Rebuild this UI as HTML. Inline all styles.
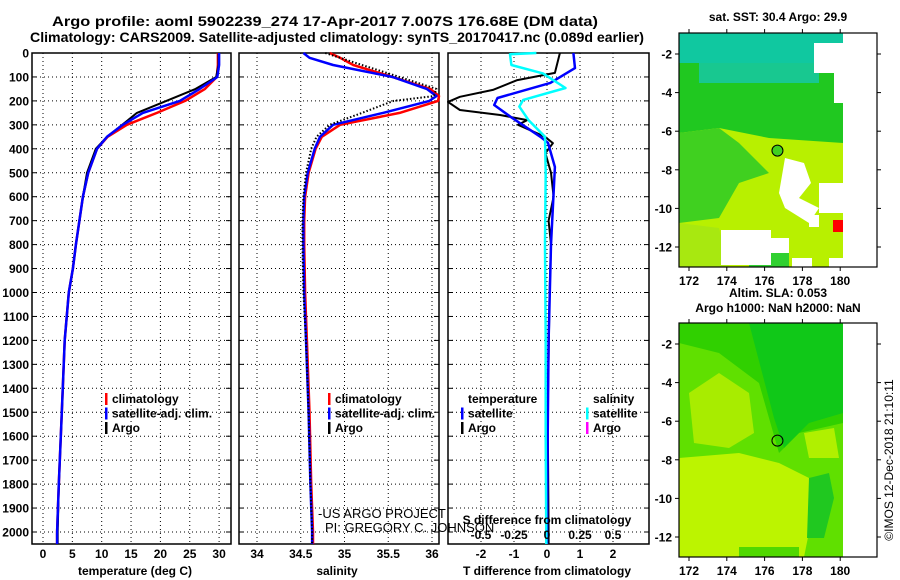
<!DOCTYPE html>
<html><head><meta charset="utf-8"><style>
body{margin:0;background:#fff}
svg{display:block}
text{font-family:"Liberation Sans",sans-serif;font-weight:bold;font-size:12px;fill:#000}
text.thin{font-weight:normal}
</style></head><body>
<svg id="fig" width="900" height="580" viewBox="0 0 900 580" xmlns="http://www.w3.org/2000/svg">
<text x="325" y="26" text-anchor="middle" style="font-size:14px" textLength="546" lengthAdjust="spacingAndGlyphs">Argo profile: aoml 5902239_274 17-Apr-2017 7.007S 176.68E (DM data)</text>
<text x="337" y="42" text-anchor="middle" style="font-size:14px" textLength="614" lengthAdjust="spacingAndGlyphs">Climatology: CARS2009. Satellite-adjusted climatology: synTS_20170417.nc (0.089d earlier)</text>
<g id="plots"></g>
<g id="maps"></g>
</svg>
<script>
// ---- profile data ----
const tDepth = [0,50,100,150,200,250,300,350,400,500,600,700,800,900,1000,1200,1500,1800,2000,2050];
const tClim  = [29.8,29.8,29.6,27.6,24.2,19.4,14.3,11.0,9.2,7.7,6.8,6.2,5.6,5.1,4.4,3.7,3.2,2.7,2.4,2.4];
const tSat   = [30.0,30.0,29.7,26.7,23.3,17.0,13.6,10.9,9.2,7.7,6.8,6.2,5.6,5.1,4.4,3.7,3.2,2.7,2.4,2.4];
const tArgo  = [29.9,29.9,29.5,26.0,21.0,16.0,13.5,10.9,9.0,7.5,6.8,6.2,5.6,5.1,4.4,3.7,3.2,2.7,2.5,2.5];
const sDepth = [0,20,50,100,150,180,200,250,300,350,400,500,600,700,800,1000,1200,1500,1800,2000,2050];
const sClim  = [34.83,34.95,35.1,35.55,35.98,36.08,36.07,35.63,34.95,34.74,34.67,34.59,34.55,34.54,34.54,34.55,34.57,34.6,34.62,34.64,34.64];
const sSat   = [34.53,34.6,34.87,35.55,35.94,36.05,35.97,35.44,34.87,34.72,34.66,34.58,34.54,34.53,34.53,34.54,34.56,34.59,34.61,34.63,34.63];
const sArgo  = [34.78,34.95,35.2,35.63,36.05,36.02,35.56,35.2,34.83,34.68,34.62,34.56,34.53,34.52,34.52,34.53,34.56,34.59,34.61,34.63,34.63];
const dtArgoDepth = [0,83,113,154,183,204,238,259,280,300,350,376,418,500,600,700,800,1000,1500,2000,2050];
const dtArgo = [0.39,0.24,-0.9,-1.64,-2.64,-3.0,-2.64,-1.42,-0.6,-0.88,-0.06,0.18,-0.05,0.12,0.2,0.05,0.12,0.08,0.02,0.05,0.05];
const dtSatDepth = [0,63,125,188,217,267,350,375,476,643,800,918,1200,1600,2050];
const dtSat = [0.8,0.85,0.1,-1.5,-1.6,-1.1,-0.2,0.03,0.24,0.18,0.12,0.1,0.05,0.02,0.0];
const dsSatDepth = [0,5,50,85,146,196,224,280,350,500,800,1200,1600,2050];
const dsSat = [-0.08,-0.28,-0.27,-0.03,0.14,-0.18,-0.21,-0.14,-0.015,-0.01,-0.015,-0.01,-0.01,-0.005];
const depthTicks = [0,100,200,300,400,500,600,700,800,900,1000,1100,1200,1300,1400,1500,1600,1700,1800,1900,2000];
const tempTicks = [0,5,10,15,20,25,30];
const salTicks = [34,34.5,35,35.5,36];
const salTickLabels = ["34","34.5","35","35.5","36"];
const dtTicks = [-2,-1,0,1,2];
const dsTicks = [-0.5,-0.25,0,0.25,0.5];
const dsTickLabels = ["-0.5","-0.25","0","0.25","0.5"];

const NS="http://www.w3.org/2000/svg";
function mk(tag,attrs,parent,txt){const e=document.createElementNS(NS,tag);for(const k in attrs)e.setAttribute(k,attrs[k]);if(txt!==undefined)e.textContent=txt;parent.appendChild(e);return e;}
const plots=document.getElementById('plots');
const yD = d => 53 + d*0.2395;
const xT = v => 43 + v*5.87;
const xS = v => 257 + (v-34)*87.5;
const xDT = v => 547 + v*33;
const xDS = v => 547 + v*132;
const Y0=53, Y1=544;

function panel(x0,x1,xTicks,xf,name){
  const g=mk('g',{},plots);
  
  
  depthTicks.forEach(d=>{const y=yD(d);
    mk('line',{x1:x0,x2:x1,y1:y,y2:y,stroke:'#000','stroke-width':1,'stroke-dasharray':'1 3'},g);
    mk('line',{x1:x0,x2:x0+5,y1:y,y2:y,stroke:'#000'},g);
    mk('line',{x1:x1-5,x2:x1,y1:y,y2:y,stroke:'#000'},g);});
  xTicks.forEach(v=>{const x=xf(v);
    mk('line',{x1:x,x2:x,y1:Y0,y2:Y1,stroke:'#000','stroke-width':1,'stroke-dasharray':'1 3'},g);});
  const r=mk('rect',{x:x0,y:Y0,width:x1-x0,height:Y1-Y0,fill:'none',stroke:'#000','stroke-width':1.5},g);
  
  
  return g;
}
function line(g,xs,ds,xf,color,w,name,dash){
  const pts=xs.map((v,i)=>xf(v).toFixed(1)+','+yD(ds[i]).toFixed(1)).join(' ');
  const p=mk('polyline',{points:pts,fill:'none',stroke:color,'stroke-width':w,'stroke-linejoin':'round'},g);
  if(dash)p.setAttribute('stroke-dasharray',dash);
  
  
}
function legend(g,x,y,items){
  items.forEach((it,i)=>{const yy=y+i*14.5;
    if(it[1]) mk('rect',{x:x-7,y:yy-10,width:2.5,height:12,fill:it[1]},g);
    const t=mk('text',{x:x,y:yy},g,it[0]);
    
    });
}

depthTicks.forEach(d=>{const t=mk('text',{x:29,y:yD(d)+4.5,'text-anchor':'end'},plots,String(d));
  
  });

// Panel 1 temperature
const p1=panel(32,231,tempTicks,xT,'temperature-panel');
line(p1,tClim,tDepth,xT,'#f00',2.5,'temp-climatology-line');
line(p1,tArgo,tDepth,xT,'#000',2,'temp-argo-line');
line(p1,tSat,tDepth,xT,'#00f',2.5,'temp-satellite-line');
tempTicks.forEach(v=>{const t=mk('text',{x:xT(v),y:558,'text-anchor':'middle'},plots,String(v));
  });
let tt=mk('text',{x:135,y:575,'text-anchor':'middle'},plots,'temperature (deg C)');

legend(p1,112,403,[['climatology','#f00'],['satellite-adj. clim.','#00f'],['Argo','#000']]);

// Panel 2 salinity
const p2=panel(239,439,salTicks,xS,'salinity-panel');
line(p2,sClim,sDepth,xS,'#f00',2.5,'sal-climatology-line');
line(p2,sSat,sDepth,xS,'#00f',2.5,'sal-satellite-line');
line(p2,sArgo,sDepth,xS,'#000',2,'sal-argo-line','1.5 2');
salTicks.forEach((v,i)=>{const t=mk('text',{x:xS(v),y:558,'text-anchor':'middle'},plots,salTickLabels[i]);
  });
tt=mk('text',{x:337,y:575,'text-anchor':'middle'},plots,'salinity');

legend(p2,335,403,[['climatology','#f00'],['satellite-adj. clim.','#00f'],['Argo','#000']]);
tt=mk('text',{x:318,y:518,'class':'thin',style:'font-size:13px'},plots,'-US ARGO PROJECT');

tt=mk('text',{x:325,y:532,'class':'thin',style:'font-size:13px'},plots,'PI: GREGORY C. JOHNSON');


// Panel 3 differences
const p3=panel(448,649,dtTicks,xDT,'difference-panel');
line(p3,dtArgo,dtArgoDepth,xDT,'#000',2,'tdiff-argo-line');
line(p3,dtSat,dtSatDepth,xDT,'#00f',2.5,'tdiff-satellite-line');
line(p3,dsSat,dsSatDepth,xDS,'#0ff',2.5,'sdiff-satellite-line');
legend(p3,468,403,[['temperature',null],['satellite','#00f'],['Argo','#000']]);
legend(p3,593,403,[['salinity',null],['satellite','#0ff'],['Argo','#f0f']]);
tt=mk('text',{x:547,y:524,'text-anchor':'middle'},plots,'S difference from climatology');

dsTicks.forEach((v,i)=>{const t=mk('text',{x:xDS(v),y:539,'text-anchor':'middle'},plots,dsTickLabels[i]);
  });
dtTicks.forEach(v=>{const t=mk('text',{x:xDT(v),y:558,'text-anchor':'middle'},plots,String(v));
  });
tt=mk('text',{x:547,y:575,'text-anchor':'middle'},plots,'T difference from climatology');


// ---- maps ----
const maps=document.getElementById('maps');
const lonTicks=[172,174,176,178,180];
const latTicks=[-2,-4,-6,-8,-10,-12];
const xLon = l => 689 + (l-172)*18.9;
const MX=679;
function mapFrame(y0,name,shapes,marker,title1,title2){
  const g=mk('g',{},maps);
  
  
  const yLat = l => y0+21 + (-2-l)*19.3;
  mk('rect',{x:MX,y:y0,width:198,height:234,fill:'#fff'},g);
  shapes.forEach(s=>{ if(s[0]==='r') mk('rect',{x:s[1]+MX,y:s[2]+y0,width:s[3],height:s[4],fill:s[5]},g);
    else mk('polygon',{points:s[1].map((v,i)=>i%2?v+y0:v+MX).join(' '),fill:s[2]},g);});
  const c=mk('circle',{cx:xLon(176.68),cy:yLat(-7.007),r:5.5,fill:marker,stroke:'#000','stroke-width':1},g);
  
  mk('rect',{x:MX,y:y0,width:198,height:234,fill:'none',stroke:'#000','stroke-width':1.2},g);
  lonTicks.forEach(l=>{const x=xLon(l);
    mk('line',{x1:x,x2:x,y1:y0,y2:y0-4,stroke:'#000'},g);
    mk('line',{x1:x,x2:x,y1:y0+234,y2:y0+238,stroke:'#000'},g);
    const t=mk('text',{x:x,y:y0+252,'text-anchor':'middle'},g,String(l));
    });
  latTicks.forEach(l=>{const y=yLat(l);
    mk('line',{x1:MX,x2:MX-4,y1:y,y2:y,stroke:'#000'},g);
    mk('line',{x1:877,x2:881,y1:y,y2:y,stroke:'#000'},g);
    const t=mk('text',{x:672,y:y+4.5,'text-anchor':'end'},g,String(l));
    });
  let t=mk('text',{x:778,y:title2?y0-26:y0-12,'text-anchor':'middle'},g,title1);
  
  if(title2){t=mk('text',{x:778,y:y0-11,'text-anchor':'middle'},g,title2);
    }
}
const sstShapes=[
 ['r',0,0,164,234,'#20c820'],
 ['r',0,0,150,30,'#10c8a0'],
 ['r',20,30,120,20,'#18c890'],
 ['p',[0,100, 40,95, 90,105, 164,110, 164,234, 0,234],'#b8f000'],
 ['p',[0,100, 40,95, 60,110, 90,140, 60,150, 40,185, 0,190],'#40d020'],
 ['p',[0,190, 40,195, 50,234, 0,234],'#a8e810'],
 ['r',70,205,40,29,'#30d030'],
 ['r',120,0,44,10,'#10c8a0'],
 ['r',135,10,29,30,'#fff'],['r',155,40,9,30,'#fff'],
 ['p',[106,125, 125,130, 132,150, 120,165, 140,175, 130,190, 106,175, 100,160],'#fff'],
 ['r',140,150,24,30,'#fff'],
 ['r',42,197,50,35,'#fff'],['r',92,205,18,15,'#fff'],
 ['r',113,225,20,9,'#fff'],['r',150,225,14,9,'#fff'],['r',130,182,10,12,'#fff'],
 ['r',164,0,34,234,'#fff'],
 ['r',154,187,10,12,'#f00']];
mapFrame(33,'sst-map',sstShapes,'#40d020','sat. SST: 30.4 Argo: 29.9');
const slaShapes=[
 ['r',0,0,164,234,'#60e000'],
 ['p',[0,0, 164,0, 164,100, 120,110, 100,130, 80,60, 40,30, 0,20],'#30d000'],
 ['p',[70,0, 164,0, 164,90, 130,100, 105,125, 95,95],'#10c818'],
 ['p',[10,70, 40,50, 70,70, 75,110, 50,125, 15,120],'#a8ec00'],
 ['p',[0,135, 60,130, 100,140, 120,150, 140,160, 125,234, 0,234],'#bcf400'],
 ['p',[125,110, 155,105, 160,135, 130,135],'#b0f000'],
 ['p',[130,155, 150,150, 155,175, 145,215, 128,215],'#20c820'],
 ['r',60,224,60,10,'#50d800'],
 ['r',164,0,34,234,'#fff']];
mapFrame(323,'sla-map',slaShapes,'none','Altim. SLA: 0.053','Argo h1000: NaN h2000: NaN');
const cr=mk('text',{x:893,y:460,'class':'thin','text-anchor':'middle',transform:'rotate(-90 893 460)'},maps,'©IMOS 12-Dec-2018 21:10:11');


</script>
</body></html>
